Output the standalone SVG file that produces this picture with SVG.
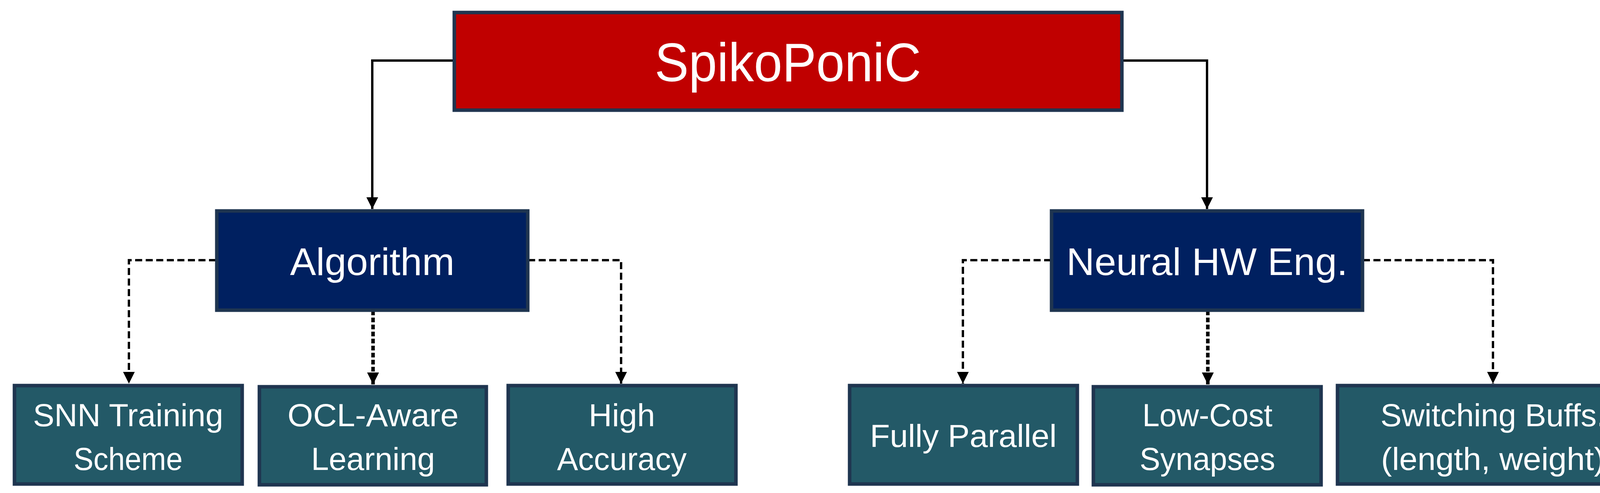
<svg xmlns="http://www.w3.org/2000/svg" width="4262" height="1262" viewBox="0 0 4262 1262">
<style>
.box{stroke:#1F3550;stroke-width:9}
.top{fill:#C00000}.mid{fill:#002060}.leaf{fill:#235967}
text{font-family:"Liberation Sans",Arial,sans-serif;fill:#fff;text-anchor:middle}
.t1{font-size:140px}.t2{font-size:98px}.t3{font-size:82px}
.solid{fill:none;stroke:#000;stroke-width:6}
.dash{fill:none;stroke:#000;stroke-width:6;stroke-dasharray:18 9}
.dot{fill:none;stroke:#000;stroke-width:9;stroke-dasharray:12 6}
</style>
<defs><marker id="ah" viewBox="0 0 10 10" refX="10" refY="5" markerWidth="5" markerHeight="5" markerUnits="strokeWidth" orient="auto"><path d="M0,0L10,5L0,10z" fill="#000"/></marker>
<marker id="ah2" viewBox="0 0 10 10" refX="10" refY="5" markerWidth="3.4" markerHeight="3.4" markerUnits="strokeWidth" orient="auto"><path d="M0,0L10,5L0,10z" fill="#000"/></marker></defs>
<g id="connectors">
<path class="solid" d="M1163,155H953V535" marker-end="url(#ah)"/>
<path class="solid" d="M2872,155H3090V535" marker-end="url(#ah)"/>
<path class="dash" d="M553,666H330V982" marker-end="url(#ah)"/>
<path class="dot" d="M955,777V984" marker-end="url(#ah2)"/>
<path class="dash" d="M1352,666H1590V982" marker-end="url(#ah)"/>
<path class="dash" d="M2691,666H2465V982" marker-end="url(#ah)"/>
<path class="dot" d="M3092,777V984" marker-end="url(#ah2)"/>
<path class="dash" d="M3489,666H3822V982" marker-end="url(#ah)"/>
</g>
<g id="root"><rect class="box top" x="1163" y="32" width="1709" height="250"/><text class="t1" x="2017" y="208" textLength="682" lengthAdjust="spacingAndGlyphs">SpikoPoniC</text></g>
<g id="algorithm"><rect class="box mid" x="555" y="540" width="796" height="254"/><text class="t2" x="953" y="704" textLength="421" lengthAdjust="spacingAndGlyphs">Algorithm</text></g>
<g id="neural"><rect class="box mid" x="2692" y="540" width="796" height="254"/><text class="t2" x="3090" y="704" textLength="720" lengthAdjust="spacingAndGlyphs">Neural HW Eng.</text></g>
<g id="snn"><rect class="box leaf" x="37" y="987" width="583" height="252"/><text class="t3" x="328" y="1091" textLength="487" lengthAdjust="spacingAndGlyphs">SNN Training</text><text class="t3" x="328" y="1203" textLength="279" lengthAdjust="spacingAndGlyphs">Scheme</text></g>
<g id="ocl"><rect class="box leaf" x="664" y="990" width="581" height="251"/><text class="t3" x="955" y="1091" textLength="438" lengthAdjust="spacingAndGlyphs">OCL-Aware</text><text class="t3" x="955" y="1203" textLength="317" lengthAdjust="spacingAndGlyphs">Learning</text></g>
<g id="acc"><rect class="box leaf" x="1301" y="987" width="583" height="252"/><text class="t3" x="1592" y="1091" textLength="170" lengthAdjust="spacingAndGlyphs">High</text><text class="t3" x="1592" y="1203" textLength="332" lengthAdjust="spacingAndGlyphs">Accuracy</text></g>
<g id="fully"><rect class="box leaf" x="2175" y="987" width="583" height="252"/><text class="t3" x="2466" y="1144" textLength="478" lengthAdjust="spacingAndGlyphs">Fully Parallel</text></g>
<g id="lowcost"><rect class="box leaf" x="2799" y="990" width="583" height="251"/><text class="t3" x="3091" y="1091" textLength="333" lengthAdjust="spacingAndGlyphs">Low-Cost</text><text class="t3" x="3091" y="1203" textLength="347" lengthAdjust="spacingAndGlyphs">Synapses</text></g>
<g id="switch"><rect class="box leaf" x="3424" y="987" width="796" height="252"/><text class="t3" x="3822" y="1091" textLength="576" lengthAdjust="spacingAndGlyphs">Switching Buffs.</text><text class="t3" x="3822" y="1203" textLength="573" lengthAdjust="spacingAndGlyphs">(length, weight)</text></g>
</svg>
